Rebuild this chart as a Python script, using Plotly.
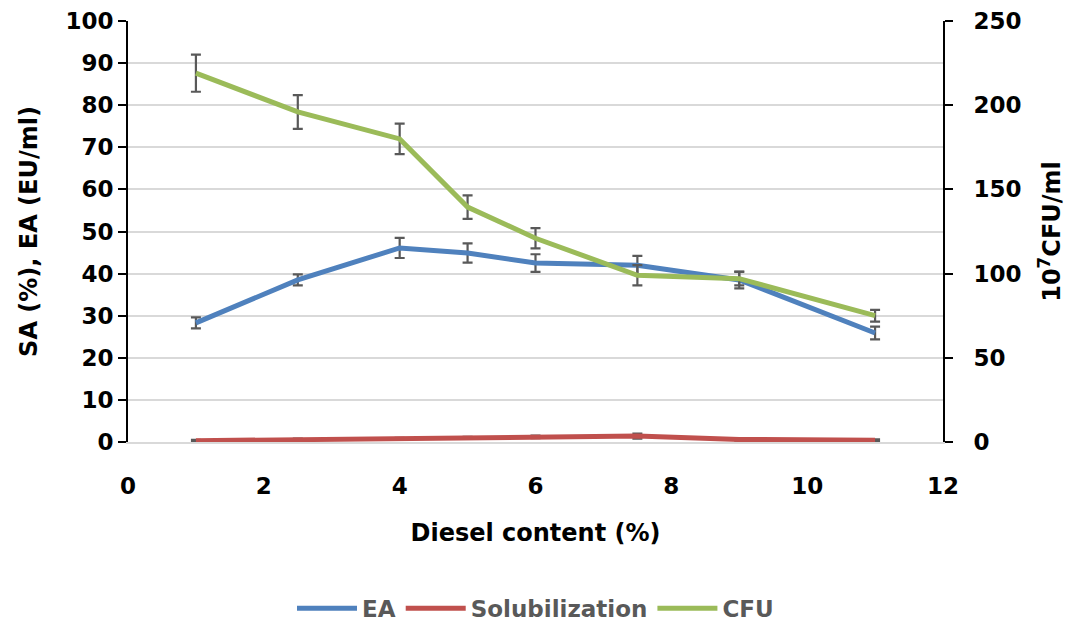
import plotly.graph_objects as go

diesel = [1, 2.5, 4, 5, 6, 7.5, 9, 11]
ea = [28.3, 38.5, 46.1, 44.9, 42.5, 42.0, 38.5, 25.9]
ea_err = [1.3, 1.3, 2.4, 2.3, 2.1, 2.2, 2.0, 1.5]
sol = [0.3, 0.6, 0.8, 1.0, 1.2, 1.4, 0.6, 0.4]
sol_err = [0.2, 0.2, 0.2, 0.2, 0.3, 0.6, 0.3, 0.2]
cfu = [219, 196, 180, 139.5, 121, 99, 97, 75]
cfu_err = [11, 10, 9, 7, 6, 6, 4, 3.5]

FONT = "DejaVu Sans, Liberation Sans, Arial"
err_style = dict(type="data", thickness=2.2, width=5, color="#595959")

fig = go.Figure()
fig.add_trace(go.Scatter(x=diesel, y=ea, name="<b>EA</b>", mode="lines",
                         line=dict(color="#4F81BD", width=5),
                         error_y=dict(array=ea_err, **err_style)))
fig.add_trace(go.Scatter(x=diesel, y=sol, name="<b>Solubilization</b>", mode="lines",
                         line=dict(color="#C0504D", width=5),
                         error_y=dict(array=sol_err, **err_style)))
fig.add_trace(go.Scatter(x=diesel, y=cfu, name="<b>CFU</b>", mode="lines", yaxis="y2",
                         line=dict(color="#9BBB59", width=5),
                         error_y=dict(array=cfu_err, **err_style)))

tickfont = dict(family=FONT, size=23, color="black")
titlefont = dict(family=FONT, size=24, color="black")
fig.update_layout(
    width=1069, height=627,
    margin=dict(l=128, r=126, t=21, b=185),
    paper_bgcolor="white", plot_bgcolor="white",
    font=dict(family=FONT, color="black"),
    xaxis=dict(range=[0, 12], dtick=2, tick0=0, showgrid=False, automargin=False,
               showline=True, linecolor="#d9d9d9", linewidth=2,
               ticks="", zeroline=False, tickfont=tickfont,
               ticklabelstandoff=22,
               title=dict(text="<b>Diesel content (%)</b>", font=titlefont,
                          standoff=27),
               tickprefix="<b>", ticksuffix="</b>"),
    yaxis=dict(range=[0, 100], dtick=10, showgrid=True, gridcolor="#d9d9d9",
               automargin=False,
               gridwidth=2, showline=True, linecolor="black", linewidth=2,
               ticks="outside", ticklen=8, tickcolor="black", tickwidth=2,
               zeroline=False, tickfont=tickfont,
               tickprefix="<b>", ticksuffix="</b>",
               title=dict(text="<b>SA (%), EA (EU/ml)</b>", font=titlefont,
                          standoff=21)),
    yaxis2=dict(range=[0, 250], dtick=50, overlaying="y", side="right",
                automargin=False,
                showgrid=False, showline=True, linecolor="black", linewidth=2,
                ticks="outside", ticklen=8, tickcolor="black", tickwidth=2,
                zeroline=False, tickfont=tickfont, ticklabelstandoff=16,
                tickprefix="<b>", ticksuffix="</b>",
                title=dict(text="<b>10<sup>7</sup>CFU/ml</b>", font=titlefont,
                           standoff=23)),
    legend=dict(orientation="h", x=0.5, xanchor="center",
                yref="container", y=0.03, yanchor="middle",
                font=dict(family=FONT, size=23, color="#595959"),
                itemwidth=60, bgcolor="rgba(0,0,0,0)"),
    showlegend=True,
)

fig.write_html("out.html")
